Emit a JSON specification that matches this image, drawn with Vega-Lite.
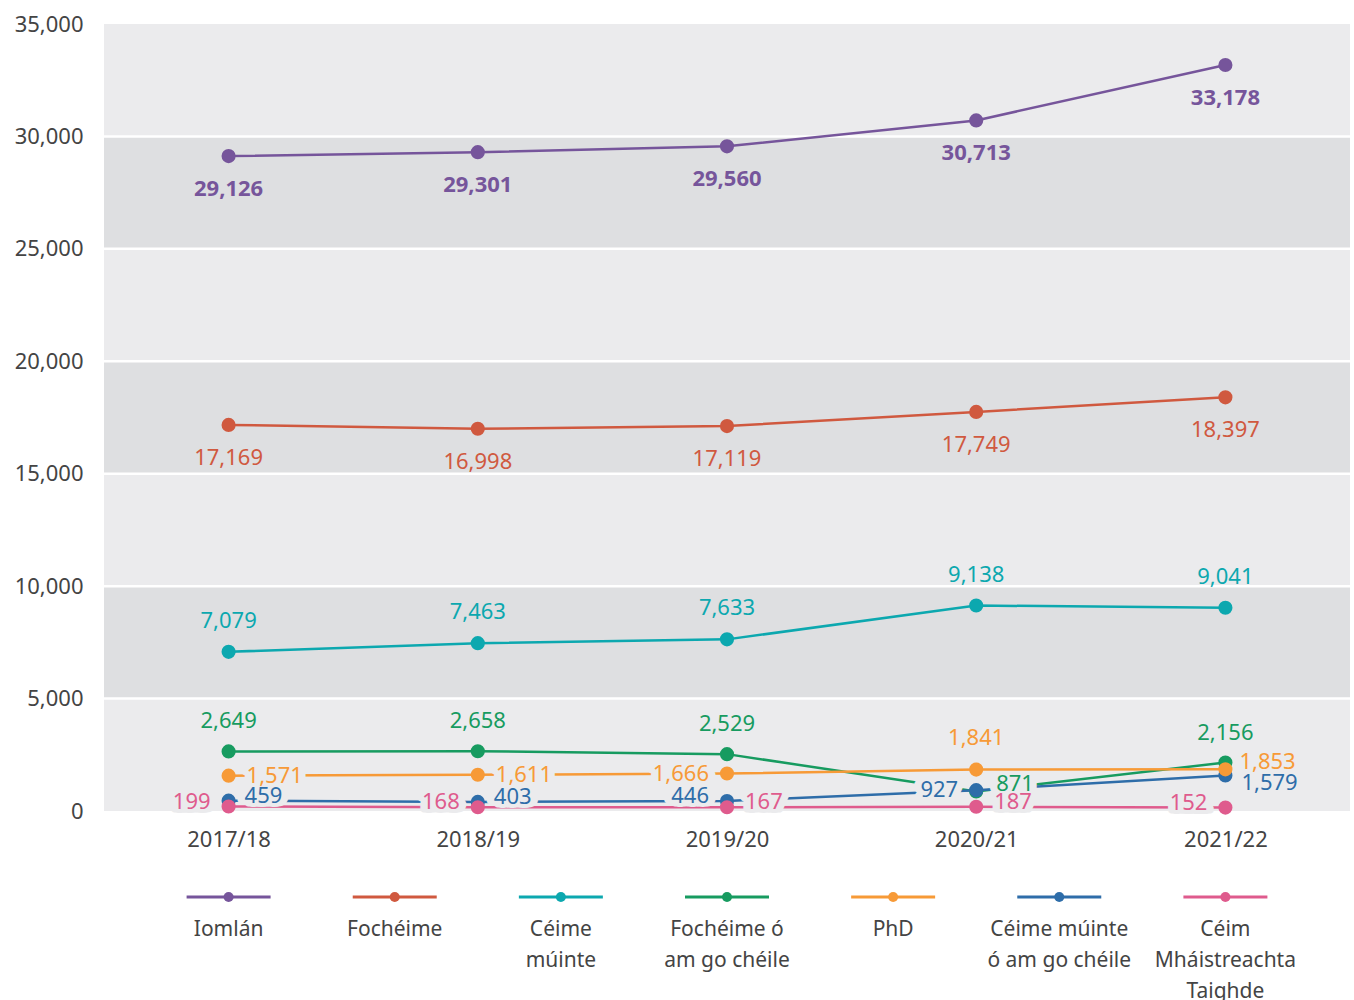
{
  "$schema": "https://vega.github.io/schema/vega-lite/v6.json",
  "padding": {"left": 14, "top": 13, "right": 0, "bottom": 0},
  "bounds": "flush",
  "spacing": 41,
  "config": {"view": {"stroke": null}, "font": "Noto Sans"},
  "datasets": {
    "series": [
      {"series": "Iomlán", "year": "2017/18", "value": 29126},
      {"series": "Iomlán", "year": "2018/19", "value": 29301},
      {"series": "Iomlán", "year": "2019/20", "value": 29560},
      {"series": "Iomlán", "year": "2020/21", "value": 30713},
      {"series": "Iomlán", "year": "2021/22", "value": 33178},
      {"series": "Fochéime", "year": "2017/18", "value": 17169},
      {"series": "Fochéime", "year": "2018/19", "value": 16998},
      {"series": "Fochéime", "year": "2019/20", "value": 17119},
      {"series": "Fochéime", "year": "2020/21", "value": 17749},
      {"series": "Fochéime", "year": "2021/22", "value": 18397},
      {"series": "Céime múinte", "year": "2017/18", "value": 7079},
      {"series": "Céime múinte", "year": "2018/19", "value": 7463},
      {"series": "Céime múinte", "year": "2019/20", "value": 7633},
      {"series": "Céime múinte", "year": "2020/21", "value": 9138},
      {"series": "Céime múinte", "year": "2021/22", "value": 9041},
      {"series": "Fochéime ó am go chéile", "year": "2017/18", "value": 2649},
      {"series": "Fochéime ó am go chéile", "year": "2018/19", "value": 2658},
      {"series": "Fochéime ó am go chéile", "year": "2019/20", "value": 2529},
      {"series": "Fochéime ó am go chéile", "year": "2020/21", "value": 871},
      {"series": "Fochéime ó am go chéile", "year": "2021/22", "value": 2156},
      {"series": "Céime múinte ó am go chéile", "year": "2017/18", "value": 459},
      {"series": "Céime múinte ó am go chéile", "year": "2018/19", "value": 403},
      {"series": "Céime múinte ó am go chéile", "year": "2019/20", "value": 446},
      {"series": "Céime múinte ó am go chéile", "year": "2020/21", "value": 927},
      {"series": "Céime múinte ó am go chéile", "year": "2021/22", "value": 1579},
      {"series": "PhD", "year": "2017/18", "value": 1571},
      {"series": "PhD", "year": "2018/19", "value": 1611},
      {"series": "PhD", "year": "2019/20", "value": 1666},
      {"series": "PhD", "year": "2020/21", "value": 1841},
      {"series": "PhD", "year": "2021/22", "value": 1853},
      {"series": "Céim Mháistreachta Taighde", "year": "2017/18", "value": 199},
      {"series": "Céim Mháistreachta Taighde", "year": "2018/19", "value": 168},
      {"series": "Céim Mháistreachta Taighde", "year": "2019/20", "value": 167},
      {"series": "Céim Mháistreachta Taighde", "year": "2020/21", "value": 187},
      {"series": "Céim Mháistreachta Taighde", "year": "2021/22", "value": 152}
    ],
    "bands": [
      {"lo": 0, "hi": 5000, "shade": "light"},
      {"lo": 5000, "hi": 10000, "shade": "dark"},
      {"lo": 10000, "hi": 15000, "shade": "light"},
      {"lo": 15000, "hi": 20000, "shade": "dark"},
      {"lo": 20000, "hi": 25000, "shade": "light"},
      {"lo": 25000, "hi": 30000, "shade": "dark"},
      {"lo": 30000, "hi": 35000, "shade": "light"}
    ],
    "legend": [
      {"series": "Iomlán", "label": "Iomlán"},
      {"series": "Fochéime", "label": "Fochéime"},
      {"series": "Céime múinte", "label": "Céime\nmúinte"},
      {"series": "Fochéime ó am go chéile", "label": "Fochéime ó\nam go chéile"},
      {"series": "PhD", "label": "PhD"},
      {"series": "Céime múinte ó am go chéile", "label": "Céime múinte\nó am go chéile"},
      {"series": "Céim Mháistreachta Taighde", "label": "Céim\nMháistreachta\nTaighde"}
    ]
  },
  "vconcat": [
    {
      "width": 1246,
      "height": 787,
      "layer": [
        {
          "data": {"name": "bands"},
          "mark": {"type": "rect"},
          "encoding": {
            "y": {"field": "lo", "type": "quantitative", "scale": {"domain": [0, 35000], "nice": false}, "axis": {"values": [0, 5000, 10000, 15000, 20000, 25000, 30000, 35000], "labelExpr": "format(datum.value, ',')", "domain": false, "ticks": false, "grid": false, "labelFontSize": 22, "labelColor": "#444444", "labelPadding": 21, "title": null}},
            "y2": {"field": "hi"},
            "fill": {"field": "shade", "type": "nominal", "scale": {"domain": ["light", "dark"], "range": ["#EBEBED", "#DEDFE1"]}, "legend": null}
          }
        },
        {
          "data": {"name": "bands"},
          "transform": [{"filter": "datum.hi < 35000"}],
          "mark": {"type": "rule", "color": "#FFFFFF", "strokeWidth": 2.5},
          "encoding": {"y": {"field": "hi", "type": "quantitative"}}
        },
        {
          "data": {"name": "series"},
          "mark": {"type": "line", "strokeWidth": 2.5},
          "encoding": {
            "x": {"field": "year", "type": "ordinal", "scale": {"type": "point", "padding": 0.5}, "axis": {"labelAngle": 0, "domain": false, "ticks": false, "labelFontSize": 22, "labelColor": "#444444", "labelPadding": 18, "title": null}},
            "y": {"field": "value", "type": "quantitative"},
            "color": {"field": "series", "type": "nominal", "scale": {"domain": ["Iomlán", "Fochéime", "Céime múinte", "Fochéime ó am go chéile", "PhD", "Céime múinte ó am go chéile", "Céim Mháistreachta Taighde"], "range": ["#76559B", "#D0593F", "#0CA8AF", "#179B60", "#F79A37", "#2E6DA9", "#DF5B8D"]}, "legend": null}
          }
        },
        {
          "data": {"name": "series"},
          "transform": [{"filter": "datum.series !== 'Iomlán' && datum.series !== 'Fochéime' && datum.series !== 'Céime múinte'"}],
          "encoding": {
            "x": {"field": "year", "type": "ordinal"},
            "y": {"field": "value", "type": "quantitative"},
            "text": {"field": "value", "type": "quantitative", "format": ","}
          },
          "layer": [
            {
              "mark": {
                "type": "text", "fontSize": 22, "baseline": "middle", "color": "#EBEBED", "fill": "#EBEBED", "stroke": "#EBEBED", "strokeWidth": 7, "strokeJoin": "round",
                "dx": {"expr": "(datum.series==='PhD' ? (datum.year==='2019/20' ? -18 : datum.year==='2020/21' ? 0 : datum.year==='2021/22' ? 14 : 18) : datum.series==='Céime múinte ó am go chéile' ? ((datum.year==='2019/20' || datum.year==='2020/21') ? -18 : 16) : datum.series==='Céim Mháistreachta Taighde' ? ((datum.year==='2019/20' || datum.year==='2020/21') ? 18 : -18) : (datum.series==='Fochéime ó am go chéile' && datum.year==='2020/21') ? 20 : 0) - 4"},
                "dy": {"expr": "(datum.series==='Iomlán' || datum.series==='Fochéime') ? 33 : datum.series==='Céime múinte' ? -31 : datum.series==='Fochéime ó am go chéile' ? (datum.year==='2020/21' ? -7 : -30) : datum.series==='PhD' ? (datum.year==='2020/21' ? -32 : datum.year==='2021/22' ? -7 : 0) : datum.series==='Céime múinte ó am go chéile' ? (datum.year==='2020/21' ? 0 : datum.year==='2021/22' ? 8 : -5) : -5"},
                "align": {"expr": "datum.series==='PhD' ? (datum.year==='2019/20' ? 'right' : datum.year==='2020/21' ? 'center' : 'left') : datum.series==='Céime múinte ó am go chéile' ? ((datum.year==='2019/20' || datum.year==='2020/21') ? 'right' : 'left') : datum.series==='Céim Mháistreachta Taighde' ? ((datum.year==='2019/20' || datum.year==='2020/21') ? 'left' : 'right') : (datum.series==='Fochéime ó am go chéile' && datum.year==='2020/21') ? 'left' : 'center'"}
              }
            },
            {
              "mark": {
                "type": "text", "fontSize": 22, "baseline": "middle", "color": "#EBEBED", "fill": "#EBEBED", "stroke": "#EBEBED", "strokeWidth": 7, "strokeJoin": "round",
                "dx": {"expr": "(datum.series==='PhD' ? (datum.year==='2019/20' ? -18 : datum.year==='2020/21' ? 0 : datum.year==='2021/22' ? 14 : 18) : datum.series==='Céime múinte ó am go chéile' ? ((datum.year==='2019/20' || datum.year==='2020/21') ? -18 : 16) : datum.series==='Céim Mháistreachta Taighde' ? ((datum.year==='2019/20' || datum.year==='2020/21') ? 18 : -18) : (datum.series==='Fochéime ó am go chéile' && datum.year==='2020/21') ? 20 : 0) + 4"},
                "dy": {"expr": "(datum.series==='Iomlán' || datum.series==='Fochéime') ? 33 : datum.series==='Céime múinte' ? -31 : datum.series==='Fochéime ó am go chéile' ? (datum.year==='2020/21' ? -7 : -30) : datum.series==='PhD' ? (datum.year==='2020/21' ? -32 : datum.year==='2021/22' ? -7 : 0) : datum.series==='Céime múinte ó am go chéile' ? (datum.year==='2020/21' ? 0 : datum.year==='2021/22' ? 8 : -5) : -5"},
                "align": {"expr": "datum.series==='PhD' ? (datum.year==='2019/20' ? 'right' : datum.year==='2020/21' ? 'center' : 'left') : datum.series==='Céime múinte ó am go chéile' ? ((datum.year==='2019/20' || datum.year==='2020/21') ? 'right' : 'left') : datum.series==='Céim Mháistreachta Taighde' ? ((datum.year==='2019/20' || datum.year==='2020/21') ? 'left' : 'right') : (datum.series==='Fochéime ó am go chéile' && datum.year==='2020/21') ? 'left' : 'center'"}
              }
            },
            {
              "mark": {
                "type": "text", "fontSize": 22, "baseline": "middle", "color": "#EBEBED", "fill": "#EBEBED", "stroke": "#EBEBED", "strokeWidth": 8, "strokeJoin": "round",
                "dx": {"expr": "datum.series==='PhD' ? (datum.year==='2019/20' ? -18 : datum.year==='2020/21' ? 0 : datum.year==='2021/22' ? 14 : 18) : datum.series==='Céime múinte ó am go chéile' ? ((datum.year==='2019/20' || datum.year==='2020/21') ? -18 : 16) : datum.series==='Céim Mháistreachta Taighde' ? ((datum.year==='2019/20' || datum.year==='2020/21') ? 18 : -18) : (datum.series==='Fochéime ó am go chéile' && datum.year==='2020/21') ? 20 : 0"},
                "dy": {"expr": "(datum.series==='Iomlán' || datum.series==='Fochéime') ? 33 : datum.series==='Céime múinte' ? -31 : datum.series==='Fochéime ó am go chéile' ? (datum.year==='2020/21' ? -7 : -30) : datum.series==='PhD' ? (datum.year==='2020/21' ? -32 : datum.year==='2021/22' ? -7 : 0) : datum.series==='Céime múinte ó am go chéile' ? (datum.year==='2020/21' ? 0 : datum.year==='2021/22' ? 8 : -5) : -5"},
                "align": {"expr": "datum.series==='PhD' ? (datum.year==='2019/20' ? 'right' : datum.year==='2020/21' ? 'center' : 'left') : datum.series==='Céime múinte ó am go chéile' ? ((datum.year==='2019/20' || datum.year==='2020/21') ? 'right' : 'left') : datum.series==='Céim Mháistreachta Taighde' ? ((datum.year==='2019/20' || datum.year==='2020/21') ? 'left' : 'right') : (datum.series==='Fochéime ó am go chéile' && datum.year==='2020/21') ? 'left' : 'center'"}
              }
            }
          ]
        },
        {
          "data": {"name": "series"},
          "mark": {"type": "circle", "size": 200, "opacity": 1},
          "encoding": {
            "x": {"field": "year", "type": "ordinal"},
            "y": {"field": "value", "type": "quantitative"},
            "color": {"field": "series", "type": "nominal"}
          }
        },
        {
          "data": {"name": "series"},
          "mark": {
            "type": "text", "fontSize": 22, "baseline": "middle",
            "fontWeight": {"expr": "datum.series==='Iomlán' ? 'bold' : 'normal'"},
            "dx": {"expr": "datum.series==='PhD' ? (datum.year==='2019/20' ? -18 : datum.year==='2020/21' ? 0 : datum.year==='2021/22' ? 14 : 18) : datum.series==='Céime múinte ó am go chéile' ? ((datum.year==='2019/20' || datum.year==='2020/21') ? -18 : 16) : datum.series==='Céim Mháistreachta Taighde' ? ((datum.year==='2019/20' || datum.year==='2020/21') ? 18 : -18) : (datum.series==='Fochéime ó am go chéile' && datum.year==='2020/21') ? 20 : 0"},
            "dy": {"expr": "(datum.series==='Iomlán' || datum.series==='Fochéime') ? 33 : datum.series==='Céime múinte' ? -31 : datum.series==='Fochéime ó am go chéile' ? (datum.year==='2020/21' ? -7 : -30) : datum.series==='PhD' ? (datum.year==='2020/21' ? -32 : datum.year==='2021/22' ? -7 : 0) : datum.series==='Céime múinte ó am go chéile' ? (datum.year==='2020/21' ? 0 : datum.year==='2021/22' ? 8 : -5) : -5"},
            "align": {"expr": "datum.series==='PhD' ? (datum.year==='2019/20' ? 'right' : datum.year==='2020/21' ? 'center' : 'left') : datum.series==='Céime múinte ó am go chéile' ? ((datum.year==='2019/20' || datum.year==='2020/21') ? 'right' : 'left') : datum.series==='Céim Mháistreachta Taighde' ? ((datum.year==='2019/20' || datum.year==='2020/21') ? 'left' : 'right') : (datum.series==='Fochéime ó am go chéile' && datum.year==='2020/21') ? 'left' : 'center'"}
          },
          "encoding": {
            "x": {"field": "year", "type": "ordinal"},
            "y": {"field": "value", "type": "quantitative"},
            "text": {"field": "value", "type": "quantitative", "format": ","},
            "color": {"field": "series", "type": "nominal"}
          }
        }
      ]
    },
    {
      "width": 1246,
      "height": 90,
      "data": {"name": "legend"},
      "encoding": {
        "x": {"field": "series", "type": "nominal", "sort": null, "scale": {"type": "point", "padding": 0.75}, "axis": null}
      },
      "layer": [
        {
          "mark": {"type": "point", "shape": "stroke", "size": 7056, "strokeWidth": 3, "filled": false, "opacity": 1},
          "encoding": {"color": {"field": "series", "type": "nominal", "legend": null}}
        },
        {
          "mark": {"type": "circle", "size": 100, "opacity": 1},
          "encoding": {"color": {"field": "series", "type": "nominal", "legend": null}}
        },
        {
          "mark": {"type": "text", "fontSize": 21, "align": "center", "baseline": "top", "dy": 22, "lineHeight": 31, "lineBreak": "\n", "fill": "#444444"},
          "encoding": {"text": {"field": "label", "type": "nominal"}}
        }
      ]
    }
  ]
}
